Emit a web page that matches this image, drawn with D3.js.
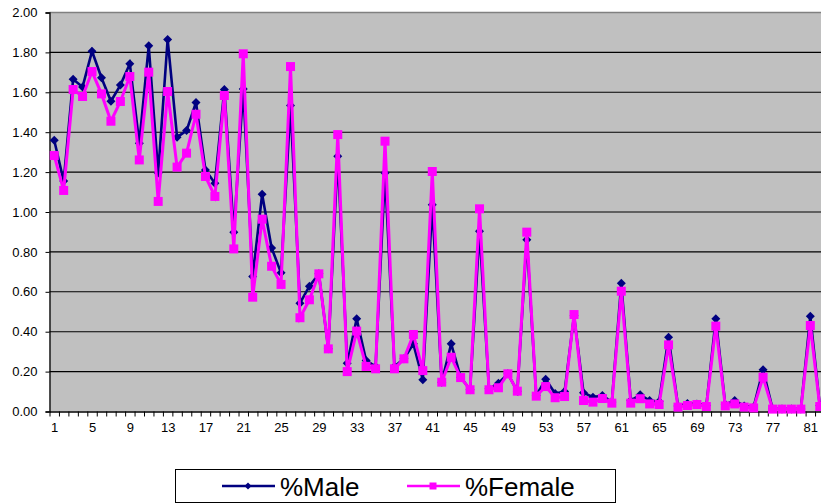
<!DOCTYPE html>
<html><head><meta charset="utf-8">
<script src="https://cdn.jsdelivr.net/npm/d3@7"></script>
<style>body{margin:0;background:#fff} svg{display:block} text{font-family:"Liberation Sans",Arial,sans-serif;fill:#000}</style>
</head><body><svg id="c" width="821" height="504"></svg>
<script>
const categories = [1,2,3,4,5,6,7,8,9,10,11,12,13,14,15,16,17,18,19,20,21,22,23,24,25,26,27,28,29,30,31,32,33,34,35,36,37,38,39,40,41,42,43,44,45,46,47,48,49,50,51,52,53,54,55,56,57,58,59,60,61,62,63,64,65,66,67,68,69,70,71,72,73,74,75,76,77,78,79,80,81,82];
const male = [1.36,1.155,1.665,1.627,1.806,1.673,1.555,1.636,1.743,1.345,1.833,1.195,1.865,1.375,1.408,1.549,1.211,1.144,1.614,0.899,1.617,0.677,1.089,0.820,0.695,1.534,0.543,0.628,0.690,0.314,1.280,0.242,0.465,0.256,0.225,1.195,0.226,0.264,0.339,0.159,1.036,0.147,0.339,0.172,0.109,0.904,0.114,0.142,0.189,0.102,0.861,0.080,0.162,0.090,0.100,0.480,0.094,0.072,0.080,0.048,0.643,0.055,0.084,0.055,0.050,0.372,0.028,0.040,0.038,0.030,0.465,0.035,0.055,0.028,0.022,0.209,0.015,0.013,0.013,0.013,0.478,0.030];
const female = [1.283,1.108,1.614,1.579,1.704,1.592,1.455,1.554,1.679,1.261,1.701,1.053,1.604,1.225,1.295,1.490,1.178,1.078,1.584,0.815,1.793,0.573,0.964,0.728,0.637,1.729,0.470,0.560,0.690,0.314,1.388,0.200,0.403,0.226,0.214,1.355,0.214,0.264,0.386,0.205,1.203,0.147,0.272,0.170,0.109,1.016,0.109,0.119,0.189,0.102,0.899,0.077,0.125,0.069,0.075,0.486,0.055,0.047,0.065,0.042,0.603,0.042,0.064,0.038,0.035,0.334,0.022,0.030,0.035,0.025,0.428,0.028,0.038,0.022,0.018,0.172,0.012,0.012,0.012,0.012,0.431,0.025];
const xTickLabels = [1,5,9,13,17,21,25,29,33,37,41,45,49,53,57,61,65,69,73,77,81];
const yTicks = [0,0.2,0.4,0.6,0.8,1.0,1.2,1.4,1.6,1.8,2.0];
const seriesNames = ["%Male","%Female"];
const seriesColors = ["#000080","#FF00FF"];

const svg = d3.select("#c");
const L = 49.5, R = 824.5, T = 12.5, B = 411.5;
const x = d3.scaleLinear().domain([0.5, categories.length + 0.5]).range([L, R]);
const y = d3.scaleLinear().domain([0, 2]).range([B, T]);

// plot background
svg.append("rect").attr("x", L).attr("y", T).attr("width", R - L).attr("height", B - T).attr("fill", "#C0C0C0");

// gridlines
svg.append("g").selectAll("line").data(yTicks.filter(v => v > 0 && v < 2)).join("line")
  .attr("x1", L).attr("x2", R).attr("y1", d => y(d)).attr("y2", d => y(d))
  .attr("stroke", "#000").attr("stroke-width", 1.1);
svg.append("line").attr("x1", L).attr("x2", R).attr("y1", y(2)).attr("y2", y(2))
  .attr("stroke", "#808080").attr("stroke-width", 1.5);

// y axis
const yAxis = d3.axisLeft(y).tickValues(yTicks).tickFormat(d3.format(".2f")).tickSize(4).tickPadding(8);
const gy = svg.append("g").attr("transform", `translate(${L},0)`).call(yAxis);
gy.select(".domain").attr("stroke", "#000").attr("stroke-width", 1.3);
gy.selectAll(".tick line").attr("stroke", "#000");
gy.selectAll("text").attr("font-size", 13).attr("font-family", "Liberation Sans, Arial, sans-serif");

// x axis: boundary ticks
const boundaries = categories.map(c => c - 0.5).concat([categories.length + 0.5]);
const xAxisTicks = d3.axisBottom(x).tickValues(boundaries).tickFormat("").tickSize(5).tickSizeOuter(0);
const gx = svg.append("g").attr("transform", `translate(0,${B})`).call(xAxisTicks);
gx.select(".domain").attr("stroke", "#000").attr("stroke-width", 1.3);
gx.selectAll(".tick line").attr("stroke", "#000");
const xAxisLabels = d3.axisBottom(x).tickValues(xTickLabels).tickSize(0).tickPadding(11);
const gxl = svg.append("g").attr("transform", `translate(0,${B})`).call(xAxisLabels);
gxl.select(".domain").remove();
gxl.selectAll("text").attr("font-size", 13).attr("font-family", "Liberation Sans, Arial, sans-serif");

const diamond = "M0,-4.5L4.5,0L0,4.5L-4.5,0Z";
const line = d3.line().x((d, i) => x(categories[i])).y(d => y(d));

// male
svg.append("path").datum(male).attr("d", line).attr("fill", "none")
  .attr("stroke", seriesColors[0]).attr("stroke-width", 2.6).attr("stroke-linejoin", "miter");
svg.append("g").selectAll("path").data(male).join("path")
  .attr("d", diamond).attr("transform", (d, i) => `translate(${x(categories[i])},${y(d)})`)
  .attr("fill", seriesColors[0]);

// female
svg.append("path").datum(female).attr("d", line).attr("fill", "none")
  .attr("stroke", seriesColors[1]).attr("stroke-width", 3).attr("stroke-linejoin", "miter");
svg.append("g").selectAll("rect").data(female).join("rect")
  .attr("x", (d, i) => x(categories[i]) - 4.5).attr("y", d => y(d) - 4.5)
  .attr("width", 9).attr("height", 9).attr("fill", seriesColors[1]);

// legend
const lg = svg.append("g");
lg.append("rect").attr("x", 175.5).attr("y", 469.5).attr("width", 440).attr("height", 33)
  .attr("fill", "#fff").attr("stroke", "#000").attr("stroke-width", 1);
const legendItems = [
  {name: seriesNames[0], color: seriesColors[0], x0: 222, type: "diamond"},
  {name: seriesNames[1], color: seriesColors[1], x0: 407, type: "square"}
];
legendItems.forEach(it => {
  const g = lg.append("g").attr("transform", `translate(${it.x0},486)`);
  g.append("line").attr("x1", 0).attr("x2", 53).attr("y1", 0).attr("y2", 0)
    .attr("stroke", it.color).attr("stroke-width", 2.5);
  if (it.type === "diamond") {
    g.append("path").attr("d", "M0,-3.5L3.5,0L0,3.5L-3.5,0Z").attr("transform", "translate(26,0)").attr("fill", it.color);
  } else {
    g.append("rect").attr("x", 22.5).attr("y", -3.5).attr("width", 7).attr("height", 7).attr("fill", it.color);
  }
  g.append("text").attr("x", 58).attr("y", 9.5).attr("font-size", 26).text(it.name);
});
</script></body></html>
